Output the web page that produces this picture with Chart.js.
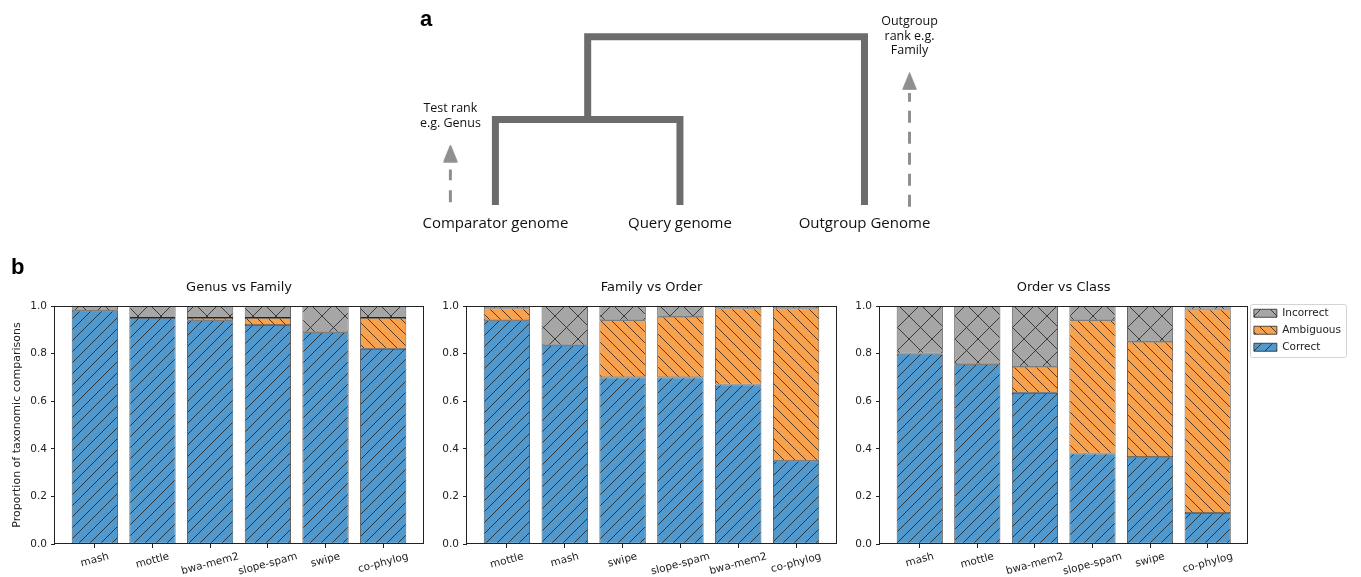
<!DOCTYPE html>
<html>
<head>
<meta charset="utf-8">
<script src="https://cdn.jsdelivr.net/npm/chart.js@4.4.1/dist/chart.umd.min.js"></script>
<style>
  body { margin: 0; background: #fff; width: 1361px; height: 577px; position: relative; overflow: hidden; }
  canvas { position: absolute; }
  .panel { position: absolute; font: bold 22px "Liberation Sans", Arial, sans-serif; line-height: 22px; color: #000; }
</style>
</head>
<body>
<canvas id="tree" width="1361" height="270" style="left:0;top:0"></canvas>
<canvas id="gf" width="440" height="307" style="left:0;top:270px"></canvas>
<canvas id="fo" width="420" height="307" style="left:440px;top:270px"></canvas>
<canvas id="oc" width="521" height="307" style="left:840px;top:270px"></canvas>
<div class="panel" style="left:420px;top:8px">a</div>
<div class="panel" style="left:11px;top:256px">b</div>
<script>
// ---- panel a: schematic tree (leaf positions / node heights in tree units)
const leafNames = ['Comparator genome', 'Query genome', 'Outgroup Genome'];
const leafPos = [0, 1, 2];
const genusHeight = 1;
const familyHeight = 1.97;
const leafLabelHeight = -0.22;
const testRankText = ['Test rank', 'e.g. Genus'];
const testRankHeights = [1.126, 0.951];
const outgroupRankText = ['Outgroup', 'rank e.g.', 'Family'];
const outgroupRankHeights = [2.153, 1.978, 1.814];
const arrowOffset = 0.244;
const testArrow = [0.033, 0.415, 0.601];      // shaft start, shaft end, head
const outgroupArrow = [-0.022, 1.311, 1.448];

// ---- panel b: stacked proportions
const outcomes = ['Correct', 'Ambiguous', 'Incorrect'];
const yTicks = [0, 0.2, 0.4, 0.6, 0.8, 1.0];

const gfTools = ['mash', 'mottle', 'bwa-mem2', 'slope-spam', 'swipe', 'co-phylog'];
const gfCorrect   = [0.98, 0.95, 0.94, 0.92, 0.89, 0.82];
const gfAmbiguous = [0.00, 0.00, 0.01, 0.03, 0.00, 0.13];
const gfIncorrect = [0.02, 0.05, 0.05, 0.05, 0.11, 0.05];

const foTools = ['mottle', 'mash', 'swipe', 'slope-spam', 'bwa-mem2', 'co-phylog'];
const foCorrect   = [0.94, 0.835, 0.70, 0.70, 0.67, 0.35];
const foAmbiguous = [0.05, 0.00, 0.24, 0.255, 0.32, 0.64];
const foIncorrect = [0.01, 0.165, 0.06, 0.045, 0.01, 0.01];

const ocTools = ['mash', 'mottle', 'bwa-mem2', 'slope-spam', 'swipe', 'co-phylog'];
const ocCorrect   = [0.80, 0.755, 0.635, 0.38, 0.365, 0.13];
const ocAmbiguous = [0.00, 0.00, 0.11, 0.56, 0.485, 0.855];
const ocIncorrect = [0.20, 0.245, 0.255, 0.06, 0.15, 0.015];

Chart.defaults.font.family = '"DejaVu Sans", sans-serif';
Chart.defaults.color = '#222';

// tree
const treeGrey = '#6c6c6c';
const arrowGrey = '#8f8f8f';

function arrowHead() {
  const c = document.createElement('canvas');
  c.width = 15; c.height = 18;
  const g = c.getContext('2d');
  g.fillStyle = arrowGrey; g.strokeStyle = arrowGrey; g.lineWidth = 1.5; g.lineJoin = 'round';
  g.beginPath(); g.moveTo(7.5, 1); g.lineTo(14, 17); g.lineTo(1, 17); g.closePath();
  g.fill(); g.stroke();
  return c;
}

const treeText = {
  id: 'treeText',
  afterDraw(chart) {
    const { ctx, scales: { x, y } } = chart;
    ctx.save();
    ctx.fillStyle = '#111';
    ctx.textAlign = 'center';
    ctx.textBaseline = 'middle';
    ctx.font = '15px "Open Sans"';
    leafNames.forEach((n, i) => ctx.fillText(n, x.getPixelForValue(leafPos[i]), y.getPixelForValue(leafLabelHeight)));
    ctx.font = '12.5px "Open Sans"';
    testRankText.forEach((t, k) => ctx.fillText(t, x.getPixelForValue(leafPos[0] - arrowOffset), y.getPixelForValue(testRankHeights[k])));
    outgroupRankText.forEach((t, k) => ctx.fillText(t, x.getPixelForValue(leafPos[2] + arrowOffset), y.getPixelForValue(outgroupRankHeights[k])));
    ctx.restore();
  }
};

const head = arrowHead();
const testX = leafPos[0] - arrowOffset;
const outX = leafPos[2] + arrowOffset;
const genusX = (leafPos[0] + leafPos[1]) / 2;

new Chart(document.getElementById('tree'), {
  type: 'scatter',
  data: {
    datasets: [
      { data: [{x: leafPos[0], y: 0}, {x: leafPos[0], y: genusHeight}, {x: leafPos[1], y: genusHeight}, {x: leafPos[1], y: 0}],
        showLine: true, borderColor: treeGrey, borderWidth: 7, pointRadius: 0, borderJoinStyle: 'miter', borderCapStyle: 'butt' },
      { data: [{x: genusX, y: genusHeight}, {x: genusX, y: familyHeight}, {x: leafPos[2], y: familyHeight}, {x: leafPos[2], y: 0}],
        showLine: true, borderColor: treeGrey, borderWidth: 7, pointRadius: 0, borderJoinStyle: 'miter', borderCapStyle: 'butt' },
      { data: [{x: testX, y: testArrow[0]}, {x: testX, y: testArrow[1]}],
        showLine: true, borderColor: arrowGrey, borderWidth: 3, borderDash: [12, 10], pointRadius: 0 },
      { data: [{x: outX, y: outgroupArrow[0]}, {x: outX, y: outgroupArrow[1]}],
        showLine: true, borderColor: arrowGrey, borderWidth: 3, borderDash: [12, 9], pointRadius: 0 },
      { data: [{x: testX, y: testArrow[2]}, {x: outX, y: outgroupArrow[2]}],
        pointStyle: head, pointRadius: 8 }
    ]
  },
  options: {
    responsive: false, animation: false,
    layout: { padding: 0 },
    plugins: { legend: { display: false }, tooltip: { enabled: false } },
    scales: {
      x: { type: 'linear', min: -2.636, max: 4.642, display: false },
      y: { type: 'linear', min: -0.656, max: 2.295, display: false }
    }
  },
  plugins: [treeText]
});

// bar panels
function hatch(ctx, color, size, dirs) {
  const c = document.createElement('canvas');
  c.width = c.height = size;
  const g = c.getContext('2d');
  g.fillStyle = color;
  g.fillRect(0, 0, size, size);
  g.strokeStyle = 'rgba(25,25,25,0.85)';
  g.lineWidth = 0.9;
  g.beginPath();
  dirs.forEach(d => {
    [-size, 0, size].forEach(o => {
      if (d === '/') { g.moveTo(o, size); g.lineTo(o + size, 0); }
      else { g.moveTo(o, 0); g.lineTo(o + size, size); }
    });
  });
  g.stroke();
  return ctx.createPattern(c, 'repeat');
}

const frame = {
  id: 'frame',
  afterDatasetsDraw(chart) {
    const { ctx, chartArea: a } = chart;
    ctx.save();
    ctx.strokeStyle = '#222';
    ctx.lineWidth = 1;
    ctx.strokeRect(Math.round(a.left) - 0.5, Math.round(a.top) + 0.5, Math.round(a.width) + 1, Math.round(a.height) - 1);
    ctx.restore();
  }
};

const xLabels = {
  id: 'xLabels',
  afterDraw(chart, args, opts) {
    const { ctx, chartArea, scales: { x } } = chart;
    const ang = 15 * Math.PI / 180;
    ctx.save();
    ctx.font = '10.5px "DejaVu Sans"';
    ctx.fillStyle = '#222';
    ctx.textAlign = 'center';
    ctx.textBaseline = 'middle';
    opts.labels.forEach((t, i) => {
      const w = ctx.measureText(t).width;
      const cy = chartArea.bottom + 7 + (w * Math.sin(ang) + 11 * Math.cos(ang)) / 2;
      ctx.save();
      ctx.translate(x.getPixelForValue(i), cy);
      ctx.rotate(-ang);
      ctx.fillText(t, 0, 0);
      ctx.restore();
    });
    ctx.restore();
  }
};

const legendFrame = {
  id: 'legendFrame',
  afterLayout(chart, args, opts) {
    if (chart.legend && opts.shift) chart.legend.top += opts.shift;
  },
  afterDraw(chart) {
    const lg = chart.legend;
    if (!lg || !lg.options.display || !lg.legendHitBoxes.length) return;
    const hb = lg.legendHitBoxes;
    const l = Math.min(...hb.map(h => h.left)) - 4;
    const r = Math.max(...hb.map(h => h.left + h.width)) + 5;
    const t = hb[0].top - 4;
    const b = hb[hb.length - 1].top + hb[hb.length - 1].height + 4;
    const ctx = chart.ctx;
    ctx.save();
    ctx.strokeStyle = '#d4d4d4';
    ctx.lineWidth = 1;
    ctx.beginPath();
    ctx.roundRect(Math.round(l) + 0.5, Math.round(t) + 0.5, Math.round(r - l), Math.round(b - t), 2);
    ctx.stroke();
    ctx.restore();
  }
};

function stackedPanel(id, title, tools, correct, ambiguous, incorrect, o) {
  const ctx = document.getElementById(id).getContext('2d');
  const fills = [
    hatch(ctx, '#5198cc', 11, ['/']),
    hatch(ctx, '#f9a24e', 11, ['\\']),
    hatch(ctx, '#a6a6a6', 23, ['/', '\\'])
  ];
  const series = [correct, ambiguous, incorrect];
  return new Chart(ctx, {
    type: 'bar',
    data: {
      datasets: outcomes.map((name, k) => ({
        label: name,
        data: series[k].map((v, i) => ({ x: i, y: v })),
        backgroundColor: fills[k],
        borderColor: '#262626',
        borderWidth: 0.8,
        borderSkipped: false,
        barPercentage: 0.8,
        categoryPercentage: 1
      }))
    },
    options: {
      responsive: false, animation: false,
      layout: { padding: { left: 0, right: o.padRight, top: 0, bottom: 0 } },
      plugins: {
        title: {
          display: true, text: title, fullSize: false,
          font: { size: 13, weight: 'normal' }, color: '#111',
          padding: { top: 10, bottom: 10.4 }
        },
        legend: o.legend ? {
          display: true, position: 'right', align: 'start', reverse: true, fullSize: false,
          labels: { boxWidth: 23, boxHeight: 8, padding: 6.5, font: { size: 10.5 }, color: '#222' }
        } : { display: false },
        legendFrame: { shift: -4.5 },
        tooltip: { enabled: false },
        xLabels: { labels: tools }
      },
      scales: {
        x: {
          type: 'linear', stacked: true, min: -0.69, max: 5.69, offset: false,
          afterBuildTicks: s => { s.ticks = tools.map((t, i) => ({ value: i })); },
          afterFit: s => { s.height = 33; },
          ticks: { display: false },
          grid: { offset: false, drawOnChartArea: false, drawTicks: true, tickLength: 4, tickColor: '#222' },
          border: { display: false }
        },
        y: {
          type: 'linear', stacked: true, min: 0, max: 1,
          afterBuildTicks: s => { s.ticks = yTicks.map(v => ({ value: v })); },
          afterFit: s => { s.width = o.yWidth; },
          ticks: { callback: v => v.toFixed(1), font: { size: 10.5 }, color: '#222', padding: 4 },
          grid: { drawOnChartArea: false, tickLength: 4, tickColor: '#222' },
          border: { display: false },
          title: o.yTitle ? {
            display: true, text: 'Proportion of taxonomic comparisons',
            font: { size: 11 }, color: '#222', padding: { top: 10.4, bottom: 0 }
          } : { display: false }
        }
      }
    },
    plugins: [frame, xLabels, legendFrame]
  });
}

stackedPanel('gf', 'Genus vs Family', gfTools, gfCorrect, gfAmbiguous, gfIncorrect, { yWidth: 55, padRight: 17, yTitle: true });
stackedPanel('fo', 'Family vs Order', foTools, foCorrect, foAmbiguous, foIncorrect, { yWidth: 27, padRight: 24 });
stackedPanel('oc', 'Order vs Class', ocTools, ocCorrect, ocAmbiguous, ocIncorrect, { yWidth: 40, padRight: 10, legend: true });
</script>
</body>
</html>
